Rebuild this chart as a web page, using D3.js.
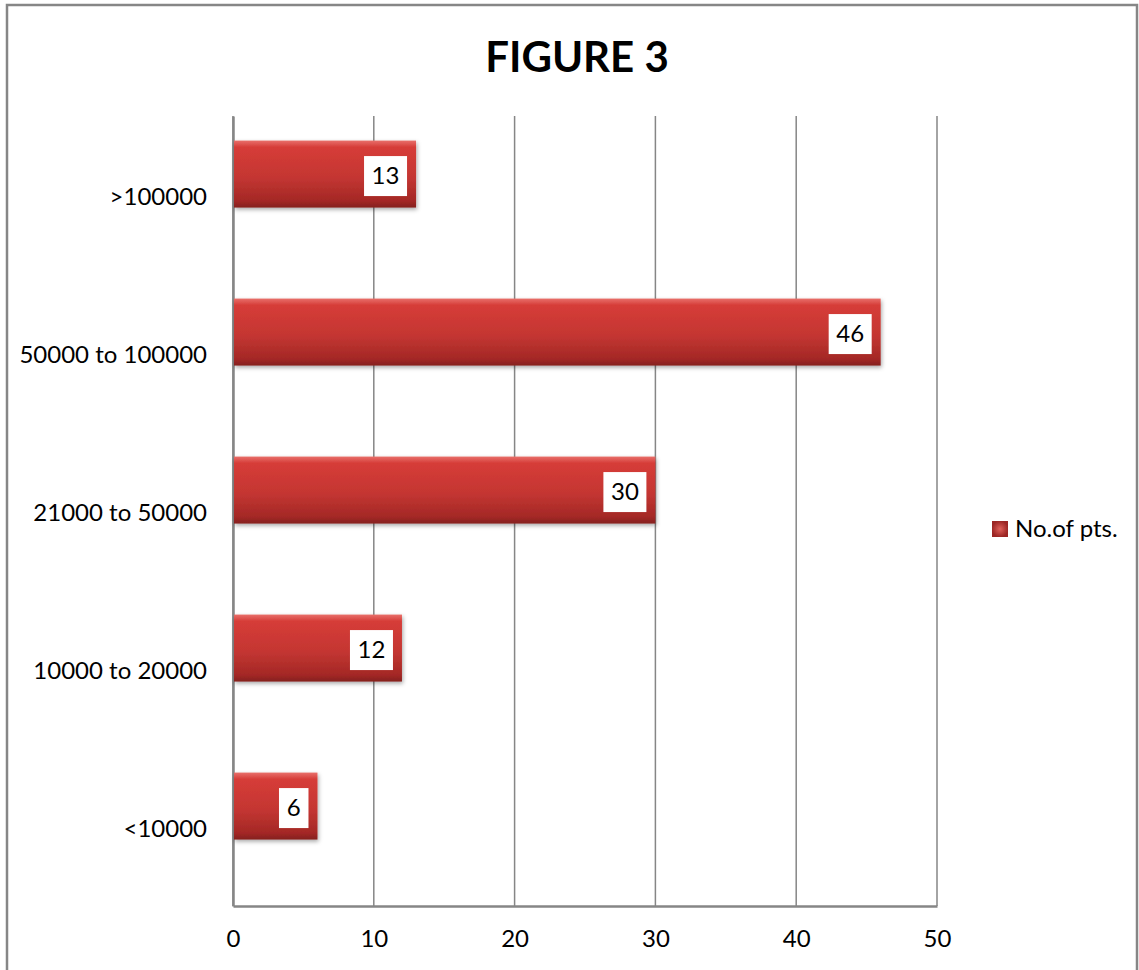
<!DOCTYPE html>
<html lang="en">
<head>
<meta charset="utf-8">
<title>Figure 3</title>
<script src="https://cdn.jsdelivr.net/npm/d3@7/dist/d3.min.js"></script>
<style>
  body { margin: 0; background: #fff; }
  text { font-family: Lato, "Open Sans", sans-serif; fill: #000; }
</style>
</head>
<body>
<script>

// chart values
var categories = [">100000", "50000 to 100000", "21000 to 50000", "10000 to 20000", "<10000"];
var values = [13, 46, 30, 12, 6];
var xTicks = [0, 10, 20, 30, 40, 50];
var seriesName = "No.of pts.";
var title = "FIGURE 3";

var width = 1139;
var height = 970;

var svg = d3.select("body").append("svg")
    .attr("width", width)
    .attr("height", height);

// gradient for bar
var defs = svg.append("defs");
var grad = defs.append("linearGradient")
    .attr("id", "barGrad")
    .attr("x1", 0).attr("y1", 0).attr("x2", 0).attr("y2", 1);
grad.append("stop").attr("offset", "0%").attr("stop-color", "#e8706a");
grad.append("stop").attr("offset", "10%").attr("stop-color", "#d63c38");
grad.append("stop").attr("offset", "55%").attr("stop-color", "#c43632");
grad.append("stop").attr("offset", "90%").attr("stop-color", "#a42826");
grad.append("stop").attr("offset", "100%").attr("stop-color", "#84201e");

var legGrad = defs.append("radialGradient")
    .attr("id", "legGrad");
legGrad.append("stop").attr("offset", "0%").attr("stop-color", "#e0605a");
legGrad.append("stop").attr("offset", "100%").attr("stop-color", "#9c2624");

var shadow = defs.append("filter").attr("id", "shadow")
    .attr("x", "-5%").attr("y", "-20%").attr("width", "115%").attr("height", "150%");
shadow.append("feDropShadow")
    .attr("dx", 1).attr("dy", 2).attr("stdDeviation", 2)
    .attr("flood-color", "#000").attr("flood-opacity", 0.35);

// outer border
svg.append("rect")
    .attr("x", 7).attr("y", 5)
    .attr("width", 1130).attr("height", 980)
    .attr("fill", "none")
    .attr("stroke", "#868686")
    .attr("stroke-width", 2.5);

var plotLeft = 233, plotRight = 937, plotTop = 116, plotBottom = 906;

var x = d3.scaleLinear()
    .domain([0, 50])
    .range([plotLeft, plotRight]);

var y = d3.scaleBand()
    .domain(categories)
    .range([plotTop, plotBottom])
    .paddingInner(0.576)
    .paddingOuter(0.288)
    .align(0.27);

// gridlines
svg.append("g")
    .selectAll("line")
    .data(xTicks)
    .enter()
    .append("line")
    .attr("x1", d => x(d)).attr("x2", d => x(d))
    .attr("y1", plotTop).attr("y2", plotBottom)
    .attr("stroke", "#868686")
    .attr("stroke-width", 1.5);

// x axis
var xAxis = svg.append("g")
    .attr("transform", "translate(0," + plotBottom + ")")
    .call(d3.axisBottom(x).tickValues(xTicks).tickSize(0).tickPadding(24));
xAxis.select(".domain").attr("stroke", "#868686").attr("stroke-width", 2.5);
xAxis.selectAll("text")
    .style("font-family", "Lato, 'Open Sans', sans-serif")
    .style("font-size", "24px")
    .attr("fill", "#000");

// y axis labels
var yAxis = svg.append("g")
    .attr("transform", "translate(" + plotLeft + ",0)")
    .call(d3.axisLeft(y).tickSize(0).tickPadding(26));
yAxis.select(".domain").attr("stroke", "#868686").attr("stroke-width", 2.5);
yAxis.selectAll("text")
    .style("font-family", "Lato, 'Open Sans', sans-serif")
    .style("font-size", "24px")
    .attr("fill", "#000")
    .attr("dy", "1.27em");

// bars
svg.append("g")
    .selectAll("rect")
    .data(values)
    .enter()
    .append("rect")
    .attr("x", x(0) + 1)
    .attr("y", (d, i) => y(categories[i]))
    .attr("width", d => x(d) - x(0) - 1)
    .attr("height", y.bandwidth())
    .attr("fill", "url(#barGrad)")
    .attr("filter", "url(#shadow)");

// data labels
var labels = svg.append("g")
    .selectAll("g")
    .data(values)
    .enter()
    .append("g")
    .attr("transform", (d, i) => "translate(" + (x(d) - 9) + "," + (y(categories[i]) + y.bandwidth() / 2 + 2) + ")");

labels.append("rect")
    .attr("x", d => -(String(d).length * 13.5 + 16))
    .attr("y", -20)
    .attr("width", d => String(d).length * 13.5 + 16)
    .attr("height", 40)
    .attr("fill", "#fff");

labels.append("text")
    .attr("x", d => -(String(d).length * 13.5 + 16) / 2)
    .attr("y", 0)
    .attr("dy", "0.35em")
    .attr("text-anchor", "middle")
    .style("font-size", "24px")
    .text(d => d);

// title
svg.append("text")
    .attr("x", 577)
    .attr("y", 72)
    .attr("text-anchor", "middle")
    .style("font-size", "42px")
    .style("font-weight", "bold")
    .text(title);

// legend
var legend = svg.append("g").attr("transform", "translate(992,521)");
legend.append("rect")
    .attr("width", 16).attr("height", 16)
    .attr("fill", "url(#legGrad)");
legend.append("text")
    .attr("x", 23)
    .attr("y", 8)
    .attr("dy", "0.35em")
    .style("font-size", "24px")
    .text(seriesName);

</script>
</body>
</html>
